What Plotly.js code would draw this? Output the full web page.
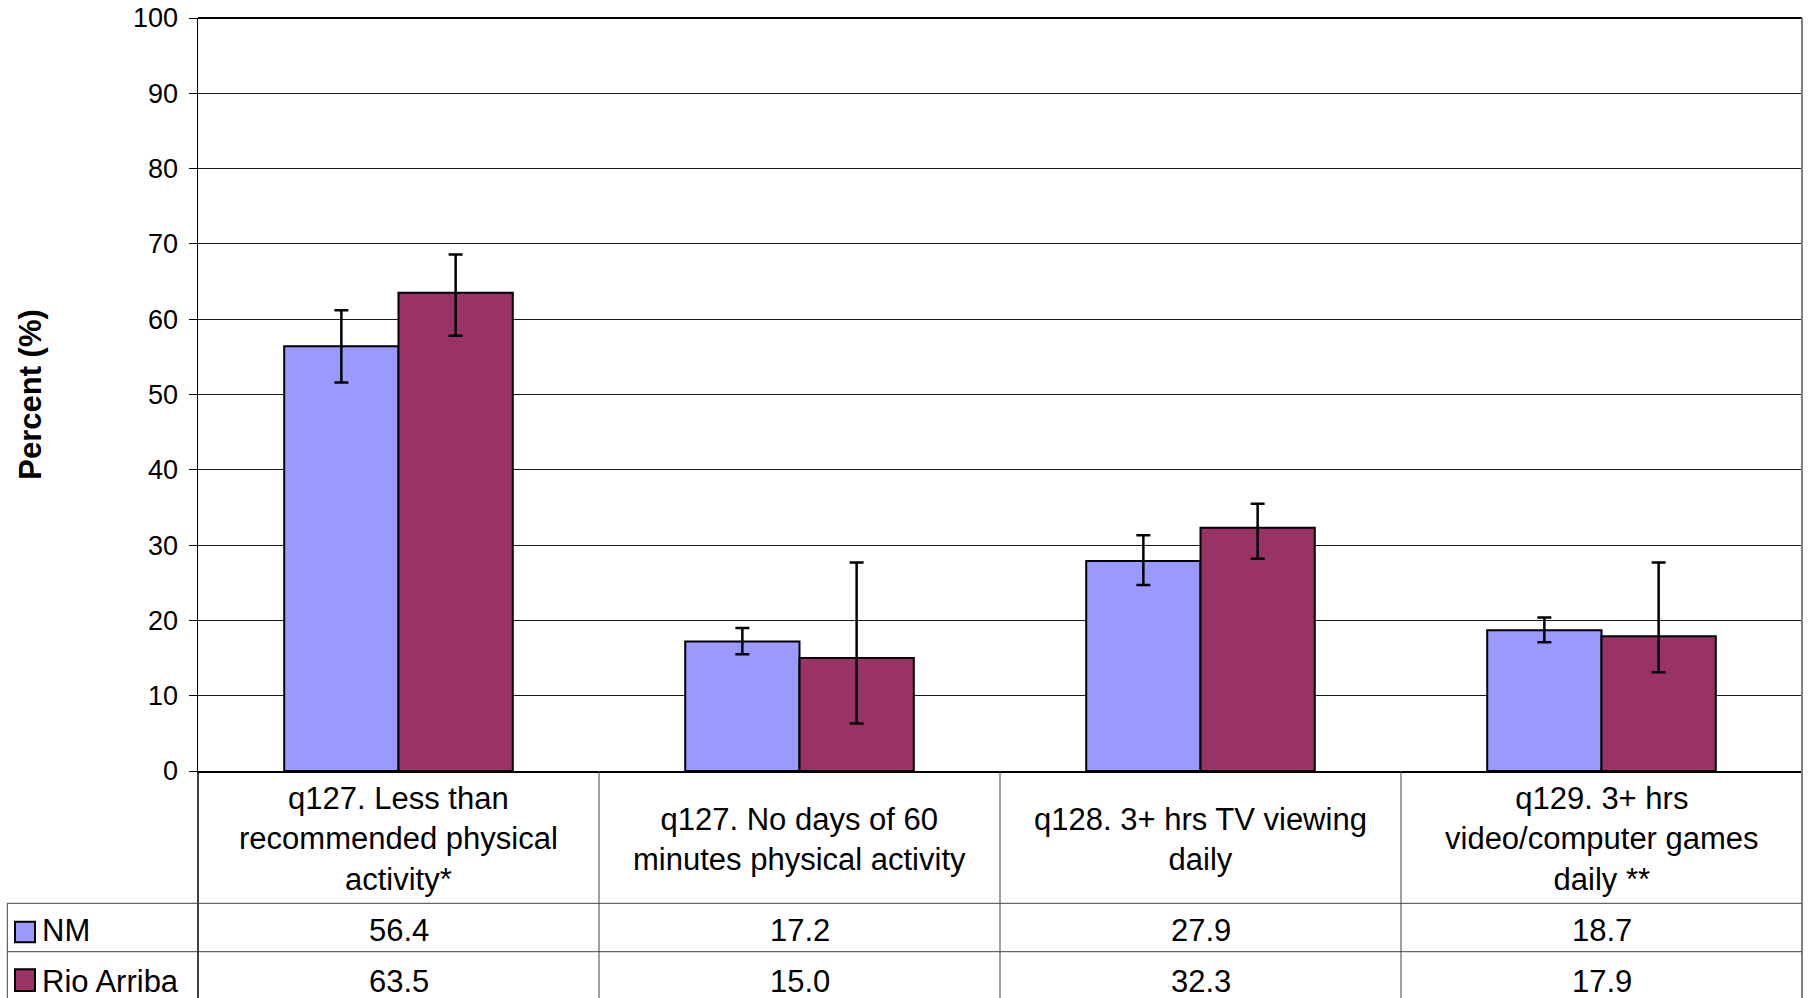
<!DOCTYPE html>
<html>
<head>
<meta charset="utf-8">
<script src="https://cdn.plot.ly/plotly-3.0.1.min.js"></script>
<style>
  html, body { margin: 0; padding: 0; background: #ffffff; overflow: hidden; }
  #chart { width: 1809px; height: 998px; }
</style>
</head>
<body>
<div id="chart"></div>
<script>
// ---------------- data ----------------
const categories = [
  "q127. Less than recommended physical activity*",
  "q127. No days of 60 minutes physical activity",
  "q128. 3+ hrs TV viewing daily",
  "q129. 3+ hrs video/computer games daily **"
];
const categoryLabels = [
  "q127. Less than<br>recommended physical<br>activity*",
  "q127. No days of 60<br>minutes physical activity",
  "q128. 3+ hrs TV viewing<br>daily",
  "q129. 3+ hrs<br>video/computer games<br>daily **"
];
const seriesNames = ["NM", "Rio Arriba"];
const nmValues = [56.4, 17.2, 27.9, 18.7];
const nmUpper  = [61.2, 19.0, 31.3, 20.4];
const nmLower  = [51.6, 15.5, 24.7, 17.1];
const raValues = [63.5, 15.0, 32.3, 17.9];
const raUpper  = [68.6, 27.7, 35.5, 27.7];
const raLower  = [57.8, 6.3, 28.2, 13.1];
const yTicks = [0, 10, 20, 30, 40, 50, 60, 70, 80, 90, 100];

// ---------------- style ----------------
const NM_COLOR = "#9999FF";
const RA_COLOR = "#993366";
const FONT = "Liberation Sans, Arial, Helvetica, sans-serif";
const W = 1809, H = 998, ML = 198, MR = 7, MT = 18, MB = 227;
const plotW = W - ML - MR, plotH = H - MT - MB;
const py = p => (H - MB - p) / plotH;   // pixel row -> paper y
const pxX = p => (p - ML) / plotW;      // pixel col -> paper x

function errPlus(v, up) { return v.map((d, i) => +(up[i] - d).toFixed(2)); }
function errMinus(v, lo) { return v.map((d, i) => +(d - lo[i]).toFixed(2)); }

const traces = [
  {
    type: "bar", name: seriesNames[0], x: categories, y: nmValues,
    marker: { color: NM_COLOR, line: { color: "#000000", width: 2 } },
    error_y: { type: "data", symmetric: false, array: errPlus(nmValues, nmUpper),
               arrayminus: errMinus(nmValues, nmLower), color: "#000000", thickness: 2.5, width: 7 },
    showlegend: false, hoverinfo: "y"
  },
  {
    type: "bar", name: seriesNames[1], x: categories, y: raValues,
    marker: { color: RA_COLOR, line: { color: "#000000", width: 2 } },
    error_y: { type: "data", symmetric: false, array: errPlus(raValues, raUpper),
               arrayminus: errMinus(raValues, raLower), color: "#000000", thickness: 2.5, width: 7 },
    showlegend: false, hoverinfo: "y"
  }
];

const tableBottom = py(1010);
const rowLine1 = py(903.3), rowLine2 = py(951.7);
const legendLeft = pxX(7.3);
const lineColor = "#404040";

const shapes = [
  // top border of plot
  { type: "line", xref: "paper", yref: "paper", x0: 0, x1: 1, y0: 1, y1: 1, line: { color: "#000", width: 2 } },
  // right border of plot (grey)
  { type: "line", xref: "paper", yref: "paper", x0: 1, x1: 1, y0: 0, y1: 1, line: { color: "#808080", width: 2 } },
  // table: left axis extension, right edge
  { type: "line", xref: "paper", yref: "paper", x0: 0, x1: 0, y0: 0, y1: tableBottom, line: { color: "#000", width: 1.5 } },
  { type: "line", xref: "paper", yref: "paper", x0: 1, x1: 1, y0: 0, y1: tableBottom, line: { color: "#808080", width: 2 } },
  // row separators
  { type: "line", xref: "paper", yref: "paper", x0: legendLeft, x1: 1, y0: rowLine1, y1: rowLine1, line: { color: lineColor, width: 1 } },
  { type: "line", xref: "paper", yref: "paper", x0: legendLeft, x1: 1, y0: rowLine2, y1: rowLine2, line: { color: lineColor, width: 1 } },
  // legend column left edge
  { type: "line", xref: "paper", yref: "paper", x0: legendLeft, x1: legendLeft, y0: rowLine1, y1: tableBottom, line: { color: lineColor, width: 1 } }
];
// column separators between categories
for (let i = 1; i < categories.length; i++) {
  const xp = i / categories.length;
  shapes.push({ type: "line", xref: "paper", yref: "paper", x0: xp, x1: xp, y0: 0, y1: tableBottom,
                line: { color: lineColor, width: 1 } });
}
// legend keys
const keyRows = [[921.7, 942.3, NM_COLOR], [969.3, 991, RA_COLOR]];
keyRows.forEach(k => {
  shapes.push({ type: "rect", xref: "paper", yref: "paper", x0: pxX(15), x1: pxX(35),
                y0: py(k[0]), y1: py(k[1]), fillcolor: k[2], line: { color: "#000", width: 2 } });
});

const annotations = [];
const headerY = py(839.5);
const rowYs = [py(930), py(981)];
categories.forEach((c, i) => {
  annotations.push({ xref: "x", yref: "paper", x: c, y: headerY, text: categoryLabels[i],
                     showarrow: false, xanchor: "center", yanchor: "middle", align: "center",
                     font: { family: FONT, size: 31, color: "#000" } });
  annotations.push({ xref: "x", yref: "paper", x: c, y: rowYs[0], text: nmValues[i].toFixed(1),
                     showarrow: false, xanchor: "center", yanchor: "middle",
                     font: { family: FONT, size: 31, color: "#000" } });
  annotations.push({ xref: "x", yref: "paper", x: c, y: rowYs[1], text: raValues[i].toFixed(1),
                     showarrow: false, xanchor: "center", yanchor: "middle",
                     font: { family: FONT, size: 31, color: "#000" } });
});
seriesNames.forEach((n, i) => {
  annotations.push({ xref: "paper", yref: "paper", x: pxX(40), y: rowYs[i], text: n,
                     showarrow: false, xanchor: "left", yanchor: "middle",
                     font: { family: FONT, size: 31, color: "#000" } });
});

const layout = {
  width: W, height: H,
  margin: { l: ML, r: MR, t: MT, b: MB, pad: 0 },
  paper_bgcolor: "#ffffff", plot_bgcolor: "#ffffff",
  font: { family: FONT, color: "#000" },
  barmode: "group", bargap: 0.43, bargroupgap: 0,
  showlegend: false,
  xaxis: {
    type: "category", range: [-0.5, categories.length - 0.5],
    showticklabels: false, ticks: "", showgrid: false, zeroline: false,
    showline: true, linecolor: "#000", linewidth: 1.5, fixedrange: true
  },
  yaxis: {
    range: [0, 100], tickmode: "array", tickvals: yTicks, ticktext: yTicks.map(String),
    ticks: "outside", ticklen: 8, tickwidth: 1, tickcolor: "#000",
    ticklabelstandoff: 5,
    tickfont: { family: FONT, size: 27, color: "#000" },
    showline: true, linecolor: "#000", linewidth: 1.5,
    showgrid: true, gridcolor: "#1a1a1a", gridwidth: 1, zeroline: false,
    automargin: false, fixedrange: true,
    title: { text: "<b>Percent (%)</b>", font: { family: FONT, size: 31, color: "#000" }, standoff: 82 }
  },
  shapes: shapes,
  annotations: annotations
};

Plotly.newPlot("chart", traces, layout, { displayModeBar: false, staticPlot: true });
</script>
</body>
</html>
